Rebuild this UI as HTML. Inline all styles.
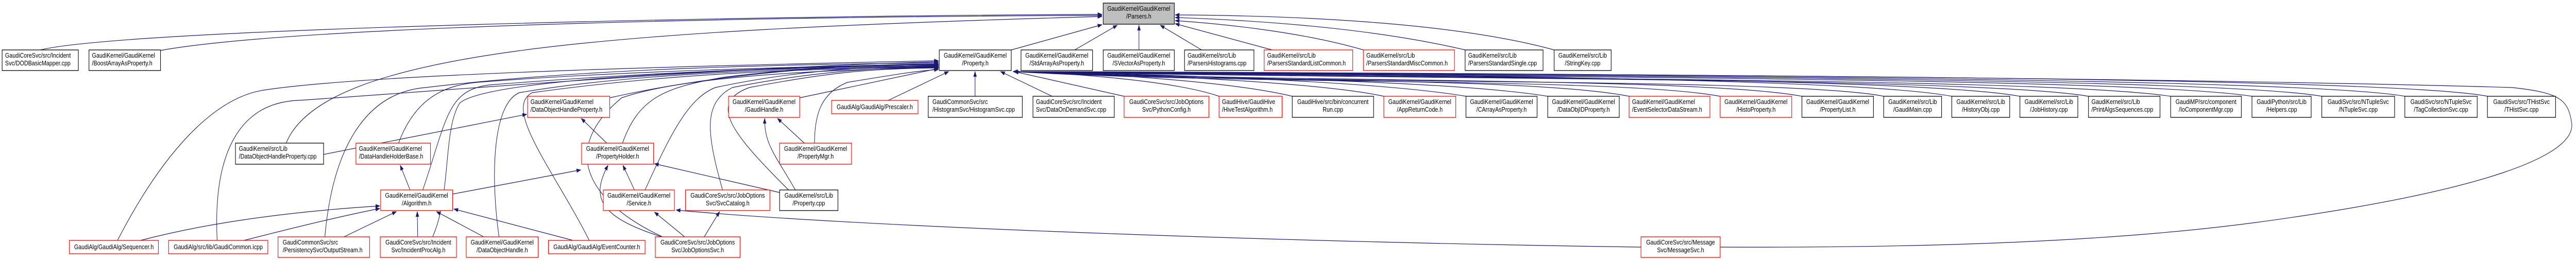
<!DOCTYPE html>
<html><head><meta charset="utf-8"><style>
html,body{margin:0;padding:0;background:#fff;overflow:hidden;width:100vw;height:100vh;}
svg{display:block;width:100vw;height:100vh;}
text{font-family:"Liberation Sans",Arial,sans-serif;font-size:13px;fill:#000;}
.e{fill:none;stroke:#191970;stroke-width:1.2;}
.b{fill:#fff;stroke:#000;stroke-width:1.3;}
.r{fill:#fff;stroke:#ff0000;stroke-width:1.3;}
.g{fill:#bfbfbf;stroke:#000;stroke-width:1.3;}
</style></head><body>
<svg viewBox="0 0 6050 507" preserveAspectRatio="none" xmlns="http://www.w3.org/2000/svg">
<defs><marker id="a" markerWidth="11" markerHeight="8" refX="10" refY="4" orient="auto" markerUnits="userSpaceOnUse"><path d="M0,0 L11,4 L0,8 z" fill="#191970"/></marker></defs>
<g class="e" marker-end="url(#a)">
<path d="M95,97 C300,55 1800,30 2588,28"/>
<path d="M377,98 C700,50 1800,32 2588,30"/>
<path d="M672,278 C760,100 1400,60 2588,32"/>
<path d="M2375,97 L2588,48"/>
<path d="M2524,97 L2624,49"/>
<path d="M2675,97 L2675,49"/>
<path d="M2822,97 L2725,49"/>
<path d="M2988,97 L2760,46"/>
<path d="M3202,97 C3050,60 2850,45 2760,40"/>
<path d="M3441,97 C3200,50 2900,38 2760,34"/>
<path d="M3650,97 C3400,40 3000,30 2760,29"/>
<path d="M276,467 C380,300 500,190 620,175 C900,140 1800,125 2204,118"/>
<path d="M510,467 C500,300 560,200 700,195 C900,185 1700,130 2204,120"/>
<path d="M763,460 C780,300 850,180 1000,170 C1400,130 1900,125 2204,122"/>
<path d="M936,278 C980,180 1060,165 1120,160 C1500,135 2000,128 2204,124"/>
<path d="M993,369 C1050,230 1050,175 1150,165 C1600,135 2000,128 2204,126"/>
<path d="M1016,460 C1060,380 1040,250 1080,200 C1150,150 1800,130 2204,128"/>
<path d="M1172,460 C1150,330 1160,200 1220,180 C1500,140 1900,132 2204,129"/>
<path d="M1384,467 C1300,330 1180,210 1250,180 C1600,140 1900,134 2204,130"/>
<path d="M1556,460 C1400,400 1300,300 1460,190 C1600,150 1900,136 2204,131"/>
<path d="M1432,190 C1700,140 2000,125 2204,124"/>
<path d="M1462,278 C1500,190 1560,170 1700,150 C1900,130 2050,125 2204,125"/>
<path d="M1515,369 C1580,250 1620,190 1680,170 C1850,140 2000,130 2204,127"/>
<path d="M1697,369 C1660,260 1650,200 1720,170 C1900,140 2050,132 2204,130"/>
<path d="M1852,369 C1720,260 1660,200 1760,170 C1950,140 2050,133 2204,132"/>
<path d="M1878,190 L2204,133"/>
<path d="M1913,278 C1913,220 1930,180 1990,160 C2100,145 2150,138 2204,135"/>
<path d="M2086,195 L2228,139"/>
<path d="M2290,187 L2290,139"/>
<path d="M2471,187 L2350,139"/>
<path d="M2640,187 L2382,139"/>
<path d="M2863,187 C2750,155 2500,142 2380,139"/>
<path d="M3035,187 C2900,160 2600,142 2380,139"/>
<path d="M3250,187 C3100,160 2700,145 2380,139"/>
<path d="M3443,187 C3250,160 2800,145 2380,139"/>
<path d="M3635,187 C3400,155 2800,150 2380,139"/>
<path d="M3826,187 C3600,150 2900,160 2380,139"/>
<path d="M4040,187 C3800,150 2900,165 2380,139"/>
<path d="M4232,187 C4000,150 3000,160 2380,139"/>
<path d="M4424,187 C4200,150 3000,165 2380,139"/>
<path d="M4584,187 C4350,150 3200,145 2380,139"/>
<path d="M4744,187 C4500,150 3300,150 2380,139"/>
<path d="M4905,187 C4650,150 3300,155 2380,139"/>
<path d="M5098,187 C4800,150 3400,155 2380,139"/>
<path d="M5289,187 C5000,150 3500,150 2380,139"/>
<path d="M5453,187 C5200,150 3600,148 2380,139"/>
<path d="M5648,187 C5400,150 3700,146 2380,139"/>
<path d="M5842,187 C5600,148 3800,145 2380,139"/>
<path d="M4040,480 C4600,482 5000,465 5300,432 C5850,370 6048,300 6040,240 C6032,192 6010,180 5900,170 C5000,148 3000,140 2380,139"/>
<path d="M3854,480 C3000,470 2000,440 1588,408"/>
<path d="M330,467 C500,430 700,410 892,400"/>
<path d="M573,467 C700,440 800,420 892,405"/>
<path d="M808,460 L931,411"/>
<path d="M981,460 L980,411"/>
<path d="M1136,460 L1025,411"/>
<path d="M1346,467 L1066,406"/>
<path d="M963,369 L940,321"/>
<path d="M1063,377 L1364,330"/>
<path d="M1425,278 L1365,230"/>
<path d="M1490,369 L1463,321"/>
<path d="M1554,460 C1400,420 1390,380 1428,321"/>
<path d="M1608,460 L1537,412"/>
<path d="M1654,460 L1690,411"/>
<path d="M1831,374 L1537,318"/>
<path d="M1868,369 C1820,300 1795,280 1796,230"/>
<path d="M1889,278 L1826,230"/>
<path d="M760,300 L1237,222"/>
</g>
<g>
<rect class="g" x="2591" y="6" width="167" height="41"/>
<text x="2674.5" y="21" text-anchor="middle">GaudiKernel/GaudiKernel</text><text x="2674.5" y="36" text-anchor="middle">/Parsers.h</text>

<rect class="b" x="5" y="97" width="179" height="40"/>
<text x="12" y="112">GaudiCoreSvc/src/Incident</text><text x="12" y="127">Svc/DODBasicMapper.cpp</text>
<rect class="b" x="209" y="97" width="168" height="40"/>
<text x="216" y="112">GaudiKernel/GaudiKernel</text><text x="216" y="127">/BoostArrayAsProperty.h</text>
<rect class="b" x="2206" y="97" width="169" height="40"/>
<text x="2290.5" y="112" text-anchor="middle">GaudiKernel/GaudiKernel</text><text x="2290.5" y="127" text-anchor="middle">/Property.h</text>
<rect class="b" x="2398" y="97" width="168" height="40"/>
<text x="2482" y="112" text-anchor="middle">GaudiKernel/GaudiKernel</text><text x="2482" y="127" text-anchor="middle">/StdArrayAsProperty.h</text>
<rect class="b" x="2591" y="97" width="167" height="40"/>
<text x="2674.5" y="112" text-anchor="middle">GaudiKernel/GaudiKernel</text><text x="2674.5" y="127" text-anchor="middle">/SVectorAsProperty.h</text>
<rect class="b" x="2782" y="97" width="163" height="40"/>
<text x="2789" y="112">GaudiKernel/src/Lib</text><text x="2789" y="127">/ParsersHistograms.cpp</text>
<rect class="r" x="2969" y="97" width="208" height="40"/>
<text x="2976" y="112">GaudiKernel/src/Lib</text><text x="2976" y="127">/ParsersStandardListCommon.h</text>
<rect class="r" x="3202" y="97" width="214" height="40"/>
<text x="3209" y="112">GaudiKernel/src/Lib</text><text x="3209" y="127">/ParsersStandardMiscCommon.h</text>
<rect class="b" x="3441" y="97" width="183" height="40"/>
<text x="3448" y="112">GaudiKernel/src/Lib</text><text x="3448" y="127">/ParsersStandardSingle.cpp</text>
<rect class="b" x="3650" y="97" width="134" height="40"/>
<text x="3717" y="112" text-anchor="middle">GaudiKernel/src/Lib</text><text x="3717" y="127" text-anchor="middle">/StringKey.cpp</text>

<rect class="r" x="1239" y="187" width="193" height="41"/>
<text x="1246" y="202">GaudiKernel/GaudiKernel</text><text x="1246" y="217">/DataObjectHandleProperty.h</text>
<rect class="r" x="1711" y="187" width="167" height="41"/>
<text x="1794.5" y="202" text-anchor="middle">GaudiKernel/GaudiKernel</text><text x="1794.5" y="217" text-anchor="middle">/GaudiHandle.h</text>
<rect class="r" x="1953" y="195" width="203" height="26"/>
<text x="2054.5" y="212" text-anchor="middle">GaudiAlg/GaudiAlg/Prescaler.h</text>
<rect class="b" x="2180" y="187" width="221" height="41"/>
<text x="2190" y="202">GaudiCommonSvc/src</text><text x="2190" y="217">/HistogramSvc/HistogramSvc.cpp</text>
<rect class="b" x="2426" y="187" width="191" height="41"/>
<text x="2433" y="202">GaudiCoreSvc/src/Incident</text><text x="2433" y="217">Svc/DataOnDemandSvc.cpp</text>
<rect class="r" x="2640" y="187" width="199" height="41"/>
<text x="2739.5" y="202" text-anchor="middle">GaudiCoreSvc/src/JobOptions</text><text x="2739.5" y="217" text-anchor="middle">Svc/PythonConfig.h</text>
<rect class="r" x="2863" y="187" width="148" height="41"/>
<text x="2870" y="202">GaudiHive/GaudiHive</text><text x="2870" y="217">/HiveTestAlgorithm.h</text>
<rect class="b" x="3035" y="187" width="191" height="41"/>
<text x="3130.5" y="202" text-anchor="middle">GaudiHive/src/bin/concurrent</text><text x="3130.5" y="217" text-anchor="middle">Run.cpp</text>
<rect class="r" x="3250" y="187" width="169" height="41"/>
<text x="3334.5" y="202" text-anchor="middle">GaudiKernel/GaudiKernel</text><text x="3334.5" y="217" text-anchor="middle">/AppReturnCode.h</text>
<rect class="b" x="3443" y="187" width="167" height="41"/>
<text x="3526.5" y="202" text-anchor="middle">GaudiKernel/GaudiKernel</text><text x="3526.5" y="217" text-anchor="middle">/CArrayAsProperty.h</text>
<rect class="b" x="3635" y="187" width="168" height="41"/>
<text x="3719" y="202" text-anchor="middle">GaudiKernel/GaudiKernel</text><text x="3719" y="217" text-anchor="middle">/DataObjIDProperty.h</text>
<rect class="r" x="3826" y="187" width="190" height="41"/>
<text x="3833" y="202">GaudiKernel/GaudiKernel</text><text x="3833" y="217">/EventSelectorDataStream.h</text>
<rect class="r" x="4040" y="187" width="168" height="41"/>
<text x="4124" y="202" text-anchor="middle">GaudiKernel/GaudiKernel</text><text x="4124" y="217" text-anchor="middle">/HistoProperty.h</text>
<rect class="b" x="4232" y="187" width="168" height="41"/>
<text x="4316" y="202" text-anchor="middle">GaudiKernel/GaudiKernel</text><text x="4316" y="217" text-anchor="middle">/PropertyList.h</text>
<rect class="b" x="4424" y="187" width="136" height="41"/>
<text x="4492" y="202" text-anchor="middle">GaudiKernel/src/Lib</text><text x="4492" y="217" text-anchor="middle">/GaudiMain.cpp</text>
<rect class="b" x="4584" y="187" width="136" height="41"/>
<text x="4652" y="202" text-anchor="middle">GaudiKernel/src/Lib</text><text x="4652" y="217" text-anchor="middle">/HistoryObj.cpp</text>
<rect class="b" x="4744" y="187" width="136" height="41"/>
<text x="4812" y="202" text-anchor="middle">GaudiKernel/src/Lib</text><text x="4812" y="217" text-anchor="middle">/JobHistory.cpp</text>
<rect class="b" x="4905" y="187" width="168" height="41"/>
<text x="4912" y="202">GaudiKernel/src/Lib</text><text x="4912" y="217">/PrintAlgsSequences.cpp</text>
<rect class="b" x="5098" y="187" width="166" height="41"/>
<text x="5181" y="202" text-anchor="middle">GaudiMP/src/component</text><text x="5181" y="217" text-anchor="middle">/IoComponentMgr.cpp</text>
<rect class="b" x="5289" y="187" width="139" height="41"/>
<text x="5358.5" y="202" text-anchor="middle">GaudiPython/src/Lib</text><text x="5358.5" y="217" text-anchor="middle">/Helpers.cpp</text>
<rect class="b" x="5453" y="187" width="171" height="41"/>
<text x="5538.5" y="202" text-anchor="middle">GaudiSvc/src/NTupleSvc</text><text x="5538.5" y="217" text-anchor="middle">/NTupleSvc.cpp</text>
<rect class="b" x="5648" y="187" width="170" height="41"/>
<text x="5733" y="202" text-anchor="middle">GaudiSvc/src/NTupleSvc</text><text x="5733" y="217" text-anchor="middle">/TagCollectionSvc.cpp</text>
<rect class="b" x="5842" y="187" width="160" height="41"/>
<text x="5922" y="202" text-anchor="middle">GaudiSvc/src/THistSvc</text><text x="5922" y="217" text-anchor="middle">/THistSvc.cpp</text>

<rect class="b" x="553" y="278" width="207" height="41"/>
<text x="561" y="293">GaudiKernel/src/Lib</text><text x="561" y="308">/DataObjectHandleProperty.cpp</text>
<rect class="r" x="836" y="278" width="175" height="41"/>
<text x="843" y="293">GaudiKernel/GaudiKernel</text><text x="843" y="308">/DataHandleHolderBase.h</text>
<rect class="r" x="1366" y="278" width="169" height="41"/>
<text x="1450.5" y="293" text-anchor="middle">GaudiKernel/GaudiKernel</text><text x="1450.5" y="308" text-anchor="middle">/PropertyHolder.h</text>
<rect class="r" x="1831" y="278" width="169" height="41"/>
<text x="1915.5" y="293" text-anchor="middle">GaudiKernel/GaudiKernel</text><text x="1915.5" y="308" text-anchor="middle">/PropertyMgr.h</text>

<rect class="r" x="894" y="369" width="169" height="40"/>
<text x="978.5" y="384" text-anchor="middle">GaudiKernel/GaudiKernel</text><text x="978.5" y="399" text-anchor="middle">/Algorithm.h</text>
<rect class="r" x="1417" y="369" width="167" height="40"/>
<text x="1500.5" y="384" text-anchor="middle">GaudiKernel/GaudiKernel</text><text x="1500.5" y="399" text-anchor="middle">/Service.h</text>
<rect class="r" x="1610" y="369" width="198" height="40"/>
<text x="1709" y="384" text-anchor="middle">GaudiCoreSvc/src/JobOptions</text><text x="1709" y="399" text-anchor="middle">Svc/SvcCatalog.h</text>
<rect class="b" x="1831" y="369" width="137" height="40"/>
<text x="1899.5" y="384" text-anchor="middle">GaudiKernel/src/Lib</text><text x="1899.5" y="399" text-anchor="middle">/Property.cpp</text>

<rect class="r" x="163" y="467" width="209" height="26"/>
<text x="267.5" y="484" text-anchor="middle">GaudiAlg/GaudiAlg/Sequencer.h</text>
<rect class="r" x="396" y="467" width="233" height="26"/>
<text x="512.5" y="484" text-anchor="middle">GaudiAlg/src/lib/GaudiCommon.icpp</text>
<rect class="r" x="653" y="460" width="215" height="40"/>
<text x="664" y="475">GaudiCommonSvc/src</text><text x="664" y="490">/PersistencySvc/OutputStream.h</text>
<rect class="r" x="893" y="460" width="179" height="40"/>
<text x="982.5" y="475" text-anchor="middle">GaudiCoreSvc/src/Incident</text><text x="982.5" y="490" text-anchor="middle">Svc/IncidentProcAlg.h</text>
<rect class="r" x="1095" y="460" width="169" height="40"/>
<text x="1179.5" y="475" text-anchor="middle">GaudiKernel/GaudiKernel</text><text x="1179.5" y="490" text-anchor="middle">/DataObjectHandle.h</text>
<rect class="r" x="1288" y="467" width="227" height="26"/>
<text x="1401.5" y="484" text-anchor="middle">GaudiAlg/GaudiAlg/EventCounter.h</text>
<rect class="r" x="1539" y="460" width="199" height="40"/>
<text x="1638.5" y="475" text-anchor="middle">GaudiCoreSvc/src/JobOptions</text><text x="1638.5" y="490" text-anchor="middle">Svc/JobOptionsSvc.h</text>
<rect class="r" x="3854" y="460" width="186" height="40"/>
<text x="3947" y="475" text-anchor="middle">GaudiCoreSvc/src/Message</text><text x="3947" y="490" text-anchor="middle">Svc/MessageSvc.h</text>
</g>
</svg>
</body></html>
